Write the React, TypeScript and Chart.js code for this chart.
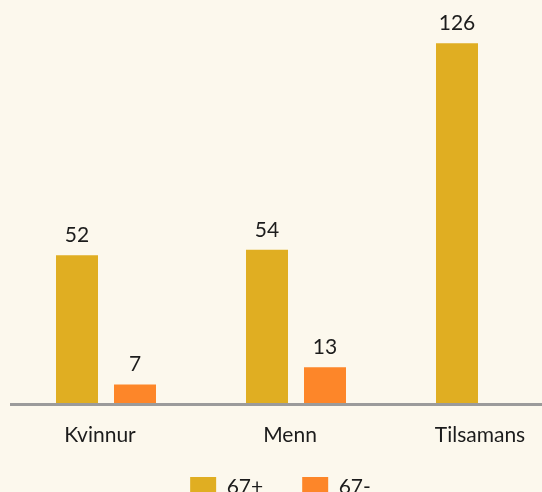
import React, { useEffect, useRef } from "react";
import { Chart, registerables } from "chart.js";

Chart.register(...registerables);

const categories = ["Kvinnur", "Menn", "Tilsamans"];
const seriesNames = ["67+", "67-"];
const over67 = [52, 54, 126];
const under67: (number | null)[] = [7, 13, null];

const FONT = "Lato, 'Noto Sans', sans-serif";
const TEXT = "#1c1c1c";
const BG = "#fcf8ed";
const TICK_PAD = 27.5;

const valueLabels = {
  id: "valueLabels",
  afterDatasetsDraw(chart: any) {
    const ctx = chart.ctx;
    ctx.save();
    ctx.font = `21px ${FONT}`;
    ctx.fillStyle = TEXT;
    ctx.textAlign = "center";
    ctx.textBaseline = "alphabetic";
    chart.data.datasets.forEach((ds: any, di: number) => {
      const meta = chart.getDatasetMeta(di);
      meta.data.forEach((bar: any, i: number) => {
        const v = ds.data[i];
        if (v == null) return;
        ctx.fillText(String(v), bar.x, bar.y - 13);
      });
    });
    ctx.restore();
  },
};

const layoutTweaks = {
  id: "layoutTweaks",
  afterLayout(chart: any) {
    const lg = chart.legend;
    if (lg) {
      lg.right = lg.right - 31;
    }
    const x = chart.scales.x;
    if (x) {
      x.bottom = x.bottom + TICK_PAD;
    }
  },
};

export default function App() {
  const ref = useRef<HTMLCanvasElement | null>(null);
  useEffect(() => {
    if (!ref.current) return;
    const chart = new Chart(ref.current, {
      type: "bar",
      data: {
        labels: categories,
        datasets: [
          {
            label: seriesNames[0],
            data: over67,
            backgroundColor: "#e0ae22",
            borderWidth: 0,
            barPercentage: 0.724,
            categoryPercentage: 0.6105,
          },
          {
            label: seriesNames[1],
            data: under67,
            backgroundColor: "#fd8629",
            borderWidth: 0,
            barPercentage: 0.724,
            categoryPercentage: 0.6105,
          },
        ],
      },
      options: {
        animation: false,
        responsive: true,
        maintainAspectRatio: false,
        layout: { padding: { left: 11, right: 0, top: 3, bottom: 0 } },
        scales: {
          x: {
            grid: { display: false, drawTicks: false },
            border: { display: true, color: "#9b9b9b", width: 3, z: 1 },
            ticks: {
              color: TEXT,
              font: { family: FONT, size: 21, lineHeight: "6px" },
              padding: TICK_PAD,
              labelOffset: -6,
            },
            afterFit(scale: any) {
              scale.height = scale.height - TICK_PAD;
            },
          },
          y: { display: false, min: 0, max: 140 },
        },
        plugins: {
          legend: {
            position: "bottom",
            labels: {
              boxWidth: 26,
              boxHeight: 21,
              padding: 39,
              color: TEXT,
              font: { family: FONT, size: 21 },
            },
          },
          tooltip: { enabled: false },
        },
      } as any,
      plugins: [valueLabels, layoutTweaks],
    });
    return () => chart.destroy();
  }, []);
  return (
    <div
      style={{
        position: "fixed",
        left: 0,
        top: 0,
        width: 542,
        height: 492,
        overflow: "hidden",
        background: BG,
      }}
    >
      <div style={{ position: "absolute", left: 0, top: 0, width: 581, height: 508 }}>
        <canvas ref={ref} />
      </div>
    </div>
  );
}
